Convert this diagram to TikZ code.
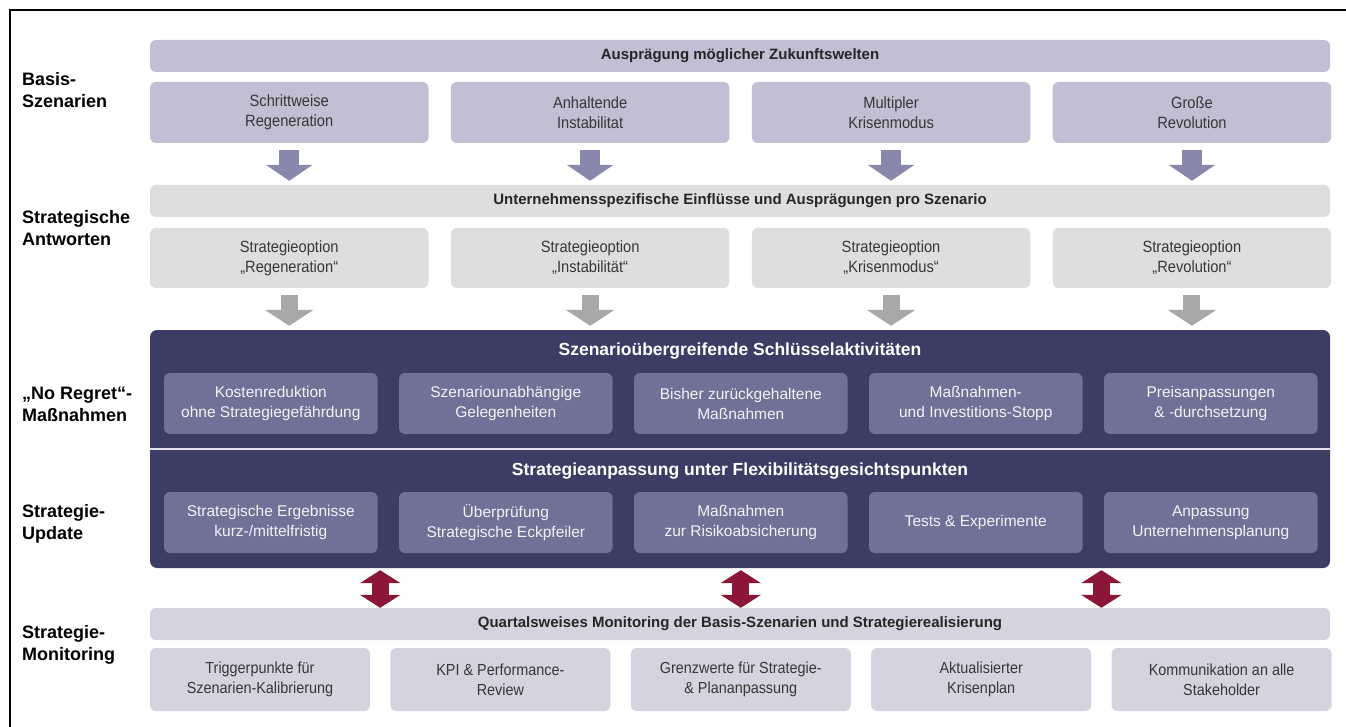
\documentclass[tikz,border=0pt]{standalone}
\usepackage{fontspec}
\setmainfont{Liberation Sans}
\newfontfamily\narrowsans{Liberation Sans}[FakeStretch=0.9]
\usetikzlibrary{arrows.meta,positioning}

\definecolor{lav}{RGB}{192,191,212}
\definecolor{lavarrow}{RGB}{137,135,172}
\definecolor{lightgr}{RGB}{222,222,222}
\definecolor{grarrow}{RGB}{168,168,168}
\definecolor{navy}{RGB}{59,61,100}
\definecolor{navybox}{RGB}{111,113,151}
\definecolor{monlav}{RGB}{212,211,223}
\definecolor{darkred}{RGB}{139,22,56}
\definecolor{txt}{RGB}{55,55,55}

\begin{document}
\begin{tikzpicture}[x=1pt,y=-1pt]
      \tikzstyle{headbar}=[rectangle,rounded corners=6pt,minimum width=1180pt,minimum height=32pt,inner sep=0pt,text=black!85,font=\fontsize{15}{18}\selectfont\bfseries]
      \tikzstyle{sbox}=[rectangle,rounded corners=6pt,inner sep=0pt,align=center,text=txt,minimum width=278.5pt,minimum height=61pt,font=\narrowsans\fontsize{16.3}{20}\selectfont]
      \tikzstyle{kbox}=[rectangle,rounded corners=6pt,inner sep=0pt,align=center,fill=navybox,text=white!94!navy,minimum width=213.6pt,minimum height=61pt,font=\fontsize{15.5}{20}\selectfont]
      \tikzstyle{mbox}=[sbox,fill=monlav,minimum width=220pt,minimum height=63pt,font=\narrowsans\fontsize{16}{20}\selectfont]
      \tikzstyle{dhead}=[inner sep=0pt,text=white,font=\fontsize{17.5}{20}\selectfont\bfseries]
      \tikzstyle{rowname}=[anchor=west,align=left,inner sep=0pt,font=\fontsize{18}{22}\selectfont\bfseries]
      \tikzstyle{lavpfeil}=[lavarrow,line width=20pt,shorten <=7pt,shorten >=4pt,-{Triangle[width=46pt,length=16pt]}]
      \tikzstyle{grpfeil}=[grarrow,line width=17pt,shorten <=7pt,shorten >=4pt,-{Triangle[width=48pt,length=16pt]}]
      \tikzstyle{redpfeil}=[darkred,line width=17pt,shorten <=2pt,{Triangle[width=40pt,length=13pt]}-{Triangle[width=40pt,length=13pt]}]

      \useasboundingbox (0,0) rectangle (1346,727);
      \draw[line width=2pt] (10,727) -- (10,10) -- (1346,10);

      % row titles
      \node[rowname](l1) at (22,90) {Basis-\\Szenarien};
      \node[rowname](l2) at (22,228) {Strategische\\Antworten};
      \node[rowname](l3) at (22,404) {„No Regret“-\\Maßnahmen};
      \node[rowname](l4) at (22,524) {Strategie-\\Update};
      \node[rowname](l5) at (22,645) {Strategie-\\Monitoring};

      \begin{scope}
        \node[headbar,fill=lav](h1) at (740,56) {Ausprägung möglicher Zukunftswelten};
        \node[sbox,fill=lav](s1) at (289.25,112.5) {Schrittweise\\Regeneration};
        \node[sbox,fill=lav](s2)[right=22pt of s1] {Anhaltende\\Instabilitat};
        \node[sbox,fill=lav](s3)[right=22pt of s2] {Multipler\\Krisenmodus};
        \node[sbox,fill=lav](s4)[right=22pt of s3] {Große\\Revolution};
      \end{scope}

      \begin{scope}
        \node[headbar,fill=lightgr](h2) at (740,201) {Unternehmensspezifische Einflüsse und Ausprägungen pro Szenario};
        \node[sbox,fill=lightgr,minimum height=60pt](o1) at (289.25,258) {Strategieoption\\„Regeneration“};
        \node[sbox,fill=lightgr,minimum height=60pt](o2)[right=22pt of o1] {Strategieoption\\„Instabilität“};
        \node[sbox,fill=lightgr,minimum height=60pt](o3)[right=22pt of o2] {Strategieoption\\„Krisenmodus“};
        \node[sbox,fill=lightgr,minimum height=60pt](o4)[right=22pt of o3] {Strategieoption\\„Revolution“};

        \path[lavpfeil]
        (s1.south) edge (s1.south |- h2.north)
        (s2.south) edge (s2.south |- h2.north)
        (s3.south) edge (s3.south |- h2.north)
        (s4.south) edge (s4.south |- h2.north);
      \end{scope}

      \begin{scope}
        \node[rectangle,rounded corners=7pt,fill=navy,minimum width=1180pt,minimum height=238pt](dark) at (740,449) {};
        \draw[white!85!navy,line width=2pt] (dark.west) -- (dark.east);

        \node[dhead](t1) at (740,351) {Szenarioübergreifende Schlüsselaktivitäten};
        \node[kbox](k1) at (270.8,403.5) {Kostenreduktion\\ohne Strategiegefährdung};
        \node[kbox](k2)[right=21pt of k1] {Szenariounabhängige\\Gelegenheiten};
        \node[kbox](k3)[right=21pt of k2] {Bisher zurückgehaltene\\Maßnahmen};
        \node[kbox](k4)[right=21pt of k3] {Maßnahmen-\\und Investitions-Stopp};
        \node[kbox](k5)[right=21pt of k4] {Preisanpassungen\\\& -durchsetzung};

        \node[dhead](t2) at (740,471) {Strategieanpassung unter Flexibilitätsgesichtspunkten};
        \node[kbox](u1) at (270.8,522.5) {Strategische Ergebnisse\\kurz-/mittelfristig};
        \node[kbox](u2)[right=21pt of u1] {Überprüfung\\Strategische Eckpfeiler};
        \node[kbox](u3)[right=21pt of u2] {Maßnahmen\\zur Risikoabsicherung};
        \node[kbox](u4)[right=21pt of u3] {Tests \& Experimente};
        \node[kbox](u5)[right=21pt of u4] {Anpassung\\Unternehmensplanung};

        \path[grpfeil]
        (o1.south) edge (o1.south |- dark.north)
        (o2.south) edge (o2.south |- dark.north)
        (o3.south) edge (o3.south |- dark.north)
        (o4.south) edge (o4.south |- dark.north);
      \end{scope}

      \begin{scope}
        \node[headbar,fill=monlav](h3) at (740,624) {Quartalsweises Monitoring der Basis-Szenarien und Strategierealisierung};
        \node[mbox](m1) at (260,679.5) {Triggerpunkte für\\Szenarien-Kalibrierung};
        \node[mbox](m2)[right=20pt of m1] {KPI \& Performance-\\Review};
        \node[mbox](m3)[right=20pt of m2] {Grenzwerte für Strategie-\\\& Plananpassung};
        \node[mbox](m4)[right=20pt of m3] {Aktualisierter\\Krisenplan};
        \node[mbox](m5)[right=20pt of m4] {Kommunikation an alle\\Stakeholder};

        \coordinate[right=10pt of m1](g1);
        \coordinate[right=10pt of m4](g3);

        \path[redpfeil]
        (dark.south -| g1) edge (h3.north -| g1)
        (dark.south -| m3.north) edge (h3.north -| m3.north)
        (dark.south -| g3) edge (h3.north -| g3);
      \end{scope}
    \end{tikzpicture}
\end{document}
